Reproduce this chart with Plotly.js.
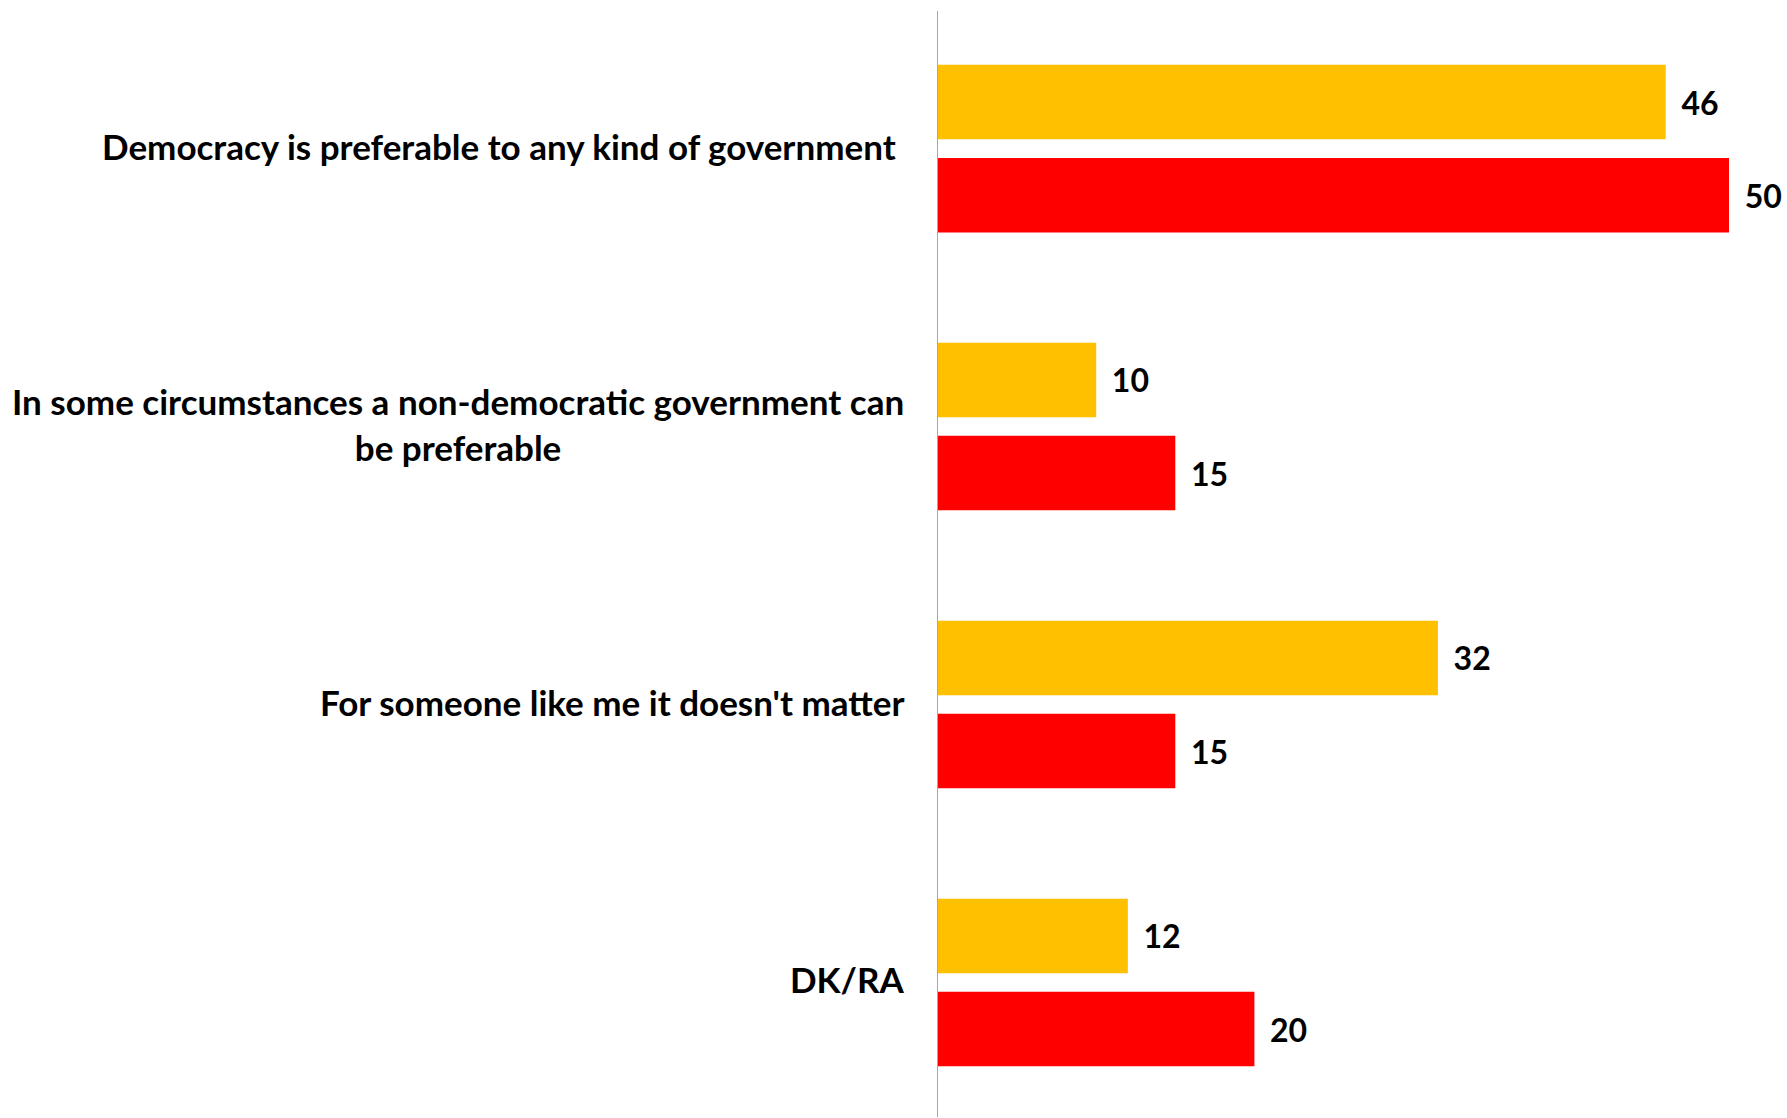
<!DOCTYPE html>
<html>
<head>
<meta charset="utf-8">
<script src="https://cdn.plot.ly/plotly-3.0.1.min.js"></script>
<style>
  html, body { margin: 0; padding: 0; background: #ffffff; }
  #chart { width: 1787px; height: 1118px; }
</style>
</head>
<body>
<div id="chart"></div>
<script>
// ---- data ----
const categories = [
  "Democracy is preferable to any kind of government\u00A0",
  "In some circumstances a non-democratic government can<br>be preferable",
  "For someone like me it doesn't matter",
  "DK/RA"
];
const categoryKeys = ["c1", "c2", "c3", "c4"];
const seriesA = [46, 10, 31.6, 12];   // yellow
const seriesB = [50, 15, 15, 20];     // red

const FONT = "Lato, 'Open Sans', sans-serif";

const traces = [
  {
    type: "bar", orientation: "h",
    y: categoryKeys, x: seriesA,
    marker: { color: "#FFC000" },
    texttemplate: "\u2004\u200A<b>%{x:.0f}</b>", textposition: "outside",
    textfont: { family: FONT, size: 32, color: "#000000" },
    cliponaxis: false, hoverinfo: "skip", showlegend: false
  },
  {
    type: "bar", orientation: "h",
    y: categoryKeys, x: seriesB,
    marker: { color: "#FF0000" },
    texttemplate: "\u2004\u200A<b>%{x:.0f}</b>", textposition: "outside",
    textfont: { family: FONT, size: 32, color: "#000000" },
    cliponaxis: false, hoverinfo: "skip", showlegend: false
  }
];

const annotations = categories.map((c, i) => ({
  xref: "paper", yref: "y",
  x: 0, y: categoryKeys[i],
  xanchor: "right", yanchor: "middle",
  xshift: -32, yshift: 3,
  align: "center",
  text: "<b>" + c + "</b>",
  showarrow: false,
  font: { family: FONT, size: 35, color: "#000000" }
}));

const layout = {
  width: 1787, height: 1118,
  margin: { l: 938, r: 58, t: 11, b: 1 },
  paper_bgcolor: "#ffffff", plot_bgcolor: "#ffffff",
  barmode: "group", bargap: 0.33, bargroupgap: 0.2,
  xaxis: {
    range: [0, 50], showgrid: false, zeroline: false,
    showticklabels: false, showline: false, ticks: ""
  },
  yaxis: {
    type: "category", range: [3.484, -0.495],
    showticklabels: false, showgrid: false, zeroline: false,
    showline: true, linecolor: "#A6A6A6", linewidth: 1.5, ticks: ""
  },
  annotations: annotations
};

Plotly.newPlot("chart", traces, layout, { staticPlot: true, displayModeBar: false });
</script>
</body>
</html>
